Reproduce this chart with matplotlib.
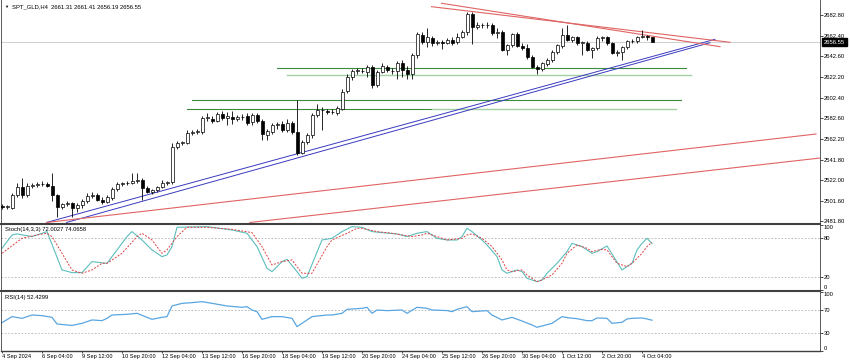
import matplotlib.pyplot as plt
import matplotlib.transforms as mtransforms
from matplotlib.lines import Line2D
import numpy as np

plt.rcParams['font.family'] = ['Liberation Sans', 'DejaVu Sans']

# SPT_GLD H4 candles, 4 Sep 20:00 .. 4 Oct 12:00
opens = [
    2496.5, 2495.8, 2495.0, 2507.5, 2515.5, 2507.0, 2516.0, 2517.0, 2518.0, 2518.5,
    2516.5, 2507.0, 2496.0, 2498.5, 2499.5, 2494.5, 2497.5, 2502.0, 2506.5, 2507.5,
    2503.0, 2500.5, 2505.0, 2513.0, 2518.0, 2519.0, 2519.5, 2521.0, 2522.5, 2514.5,
    2510.5, 2512.0, 2515.0, 2519.5, 2520.0, 2554.5, 2558.5, 2558.0, 2568.0, 2569.0,
    2569.0, 2582.5, 2582.0, 2580.0, 2586.5, 2582.5, 2583.5, 2582.0, 2583.0, 2584.5,
    2578.5, 2585.0, 2579.5, 2566.0, 2569.0, 2575.5, 2577.0, 2571.0, 2577.5, 2569.0,
    2548.5, 2559.5, 2566.0, 2585.0, 2590.5, 2589.5, 2588.5, 2587.5, 2591.5, 2608.5,
    2622.5, 2628.0, 2628.5, 2627.0, 2632.0, 2614.5, 2627.5, 2632.0, 2628.5, 2628.0,
    2636.0, 2629.0, 2625.5, 2643.5, 2663.5, 2657.0, 2660.5, 2655.5, 2656.5, 2656.0,
    2658.5, 2656.5, 2661.5, 2666.0, 2684.0, 2671.5, 2673.0, 2673.5, 2673.0, 2665.0,
    2666.5, 2649.0, 2654.0, 2664.0, 2653.0, 2651.0, 2641.5, 2632.5, 2630.5, 2635.0,
    2639.0, 2647.0, 2653.0, 2663.5, 2659.0, 2661.0, 2656.0, 2656.0, 2649.0, 2650.5,
    2660.5, 2661.0, 2655.5, 2645.5, 2646.5, 2651.5, 2657.5, 2657.5, 2661.5, 2662.0,
    2661.31]
highs = [
    2498.5, 2498.0, 2509.5, 2519.0, 2524.0, 2519.0, 2519.5, 2520.0, 2521.5, 2520.0,
    2529.2, 2508.5, 2500.0, 2501.5, 2501.0, 2500.0, 2504.0, 2509.0, 2510.5, 2509.0,
    2506.0, 2507.5, 2515.0, 2520.0, 2520.5, 2521.0, 2529.0, 2529.0, 2524.0, 2516.0,
    2513.5, 2516.0, 2522.0, 2521.5, 2558.5, 2560.0, 2560.5, 2571.0, 2571.0, 2572.0,
    2584.5, 2587.0, 2584.0, 2588.5, 2589.5, 2588.0, 2589.0, 2585.5, 2586.0, 2587.0,
    2587.0, 2587.0, 2582.0, 2571.5, 2577.5, 2578.5, 2579.5, 2581.5, 2580.0, 2600.0,
    2561.5, 2568.0, 2587.0, 2596.0, 2593.0, 2591.5, 2591.0, 2594.0, 2611.0, 2625.5,
    2630.5, 2631.0, 2631.0, 2634.5, 2634.5, 2629.0, 2636.0, 2634.0, 2631.0, 2638.0,
    2639.0, 2633.0, 2646.0, 2666.0, 2666.0, 2670.0, 2662.5, 2659.0, 2659.0, 2660.0,
    2661.0, 2665.0, 2668.5, 2686.0, 2686.0, 2676.0, 2675.5, 2676.0, 2675.0, 2670.0,
    2668.0, 2654.5, 2665.0, 2666.0, 2655.5, 2654.5, 2643.5, 2634.5, 2637.5, 2641.0,
    2648.5, 2655.0, 2670.0, 2673.0, 2662.5, 2662.5, 2658.0, 2657.5, 2651.5, 2662.0,
    2662.0, 2662.0, 2657.0, 2648.5, 2652.5, 2658.5, 2659.5, 2662.5, 2668.5, 2663.0,
    2661.41]
lows = [
    2494.0, 2493.5, 2494.0, 2506.0, 2505.0, 2505.5, 2514.5, 2515.5, 2516.0, 2515.0,
    2501.5, 2486.0, 2494.0, 2496.5, 2486.0, 2491.0, 2495.0, 2500.0, 2504.5, 2501.5,
    2499.0, 2499.5, 2503.0, 2511.5, 2516.5, 2517.0, 2518.0, 2519.0, 2502.5, 2509.5,
    2508.5, 2510.0, 2514.5, 2517.5, 2518.0, 2552.5, 2556.0, 2557.0, 2566.0, 2567.0,
    2566.5, 2580.0, 2578.0, 2578.5, 2580.5, 2576.0, 2576.5, 2580.0, 2580.5, 2576.0,
    2575.5, 2578.0, 2561.0, 2561.0, 2567.0, 2572.0, 2568.5, 2569.0, 2566.5, 2546.5,
    2547.0, 2557.5, 2563.5, 2583.0, 2571.0, 2586.5, 2586.0, 2585.5, 2590.0, 2606.5,
    2620.0, 2625.0, 2626.0, 2622.0, 2612.0, 2612.5, 2626.0, 2627.5, 2625.0, 2621.0,
    2622.0, 2621.0, 2621.0, 2641.0, 2655.0, 2652.0, 2653.0, 2653.5, 2650.0, 2655.0,
    2654.0, 2654.5, 2660.0, 2663.5, 2655.0, 2669.5, 2670.5, 2670.0, 2663.0, 2660.0,
    2647.5, 2644.0, 2652.0, 2652.0, 2649.0, 2640.0, 2631.0, 2625.0, 2628.5, 2633.5,
    2637.5, 2645.0, 2650.5, 2658.0, 2656.5, 2654.0, 2644.0, 2647.5, 2641.0, 2649.0,
    2658.0, 2654.0, 2644.5, 2643.0, 2639.0, 2650.0, 2655.5, 2656.0, 2660.0, 2659.0,
    2656.19]
closes = [
    2495.8, 2496.8, 2507.0, 2515.5, 2507.0, 2516.0, 2517.0, 2518.0, 2518.5, 2516.5,
    2507.0, 2496.0, 2498.5, 2499.5, 2494.5, 2497.5, 2502.0, 2506.5, 2507.5, 2503.0,
    2500.5, 2505.5, 2513.0, 2518.0, 2519.0, 2519.5, 2521.0, 2522.0, 2514.0, 2510.5,
    2512.0, 2515.0, 2519.5, 2520.0, 2554.5, 2558.5, 2559.0, 2568.0, 2569.0, 2570.0,
    2582.5, 2583.5, 2580.0, 2586.5, 2582.5, 2584.0, 2582.0, 2583.0, 2583.5, 2578.0,
    2585.0, 2579.5, 2566.5, 2569.5, 2575.5, 2576.5, 2571.0, 2577.5, 2569.0, 2548.0,
    2559.5, 2566.0, 2585.0, 2590.5, 2590.0, 2588.5, 2588.0, 2592.5, 2608.0, 2622.5,
    2628.0, 2629.0, 2628.0, 2632.5, 2614.5, 2627.5, 2633.0, 2629.0, 2628.0, 2636.0,
    2629.0, 2625.5, 2644.0, 2664.5, 2657.0, 2661.0, 2655.5, 2656.5, 2656.0, 2658.5,
    2655.5, 2661.5, 2666.0, 2684.0, 2671.5, 2673.0, 2673.5, 2673.0, 2665.0, 2666.5,
    2649.0, 2653.5, 2664.0, 2653.0, 2650.5, 2641.5, 2632.5, 2630.5, 2636.0, 2639.5,
    2647.0, 2653.5, 2663.5, 2659.0, 2661.0, 2656.0, 2656.5, 2649.0, 2650.5, 2660.5,
    2661.0, 2655.5, 2645.5, 2646.5, 2651.5, 2657.5, 2658.0, 2661.5, 2662.0, 2661.3,
    2656.55]

# Stoch(14,3,3) (bar index, value)
stoch_k_bars = [0, 2, 3, 6, 8, 9, 12, 14, 16, 18, 21, 25, 26, 28, 30, 32, 33, 34, 35, 41,
                46, 49, 51, 53, 54, 56, 57, 59, 60, 61, 64, 66, 68, 70, 72, 74, 76, 79, 81, 83,
                85, 87, 89, 91, 92, 93, 94, 96, 97, 99, 100, 101, 103, 104, 105, 107, 108, 109,
                111, 113, 114, 116, 118, 119, 121, 124, 126, 127, 128, 129, 130]
stoch_k = [64.6, 85.0, 86.7, 82.6, 87.7, 90.3, 31.3, 27.2, 27.2, 44.1, 41.5, 82.6, 90.3, 77.4,
           62.1, 51.8, 54.4, 67.2, 96.9, 97.9, 92.8, 87.7, 67.2, 33.8, 28.7, 44.1, 47.7, 28.7,
           18.5, 21.0, 77.4, 80.0, 90.3, 97.9, 96.9, 90.3, 88.7, 86.7, 82.6, 87.7, 90.3, 80.0,
           77.4, 77.4, 82.6, 95.4, 90.3, 77.4, 69.7, 51.8, 31.3, 26.2, 31.3, 28.7, 18.5, 13.3,
           15.9, 26.2, 41.5, 59.5, 72.3, 67.2, 56.9, 59.5, 68.2, 31.3, 41.5, 62.1, 72.3, 80.0,
           72.0027]
stoch_d_bars = [0, 4, 7, 9, 10, 12, 14, 16, 18, 20, 21, 24, 27, 28, 30, 32, 33, 35, 37, 41,
                46, 50, 52, 54, 56, 58, 60, 62, 65, 66, 69, 71, 72, 75, 78, 82, 84, 85, 87, 89,
                92, 93, 94, 96, 98, 100, 101, 102, 104, 105, 107, 108, 110, 112, 113, 115, 117,
                118, 120, 121, 123, 125, 126, 128, 129, 130]
stoch_d = [56.9, 80.0, 85.1, 87.7, 82.6, 56.9, 31.3, 26.2, 31.3, 41.5, 41.5, 56.9, 82.6, 87.7,
           77.4, 56.9, 62.1, 82.6, 96.9, 96.9, 93.8, 88.7, 67.2, 39.0, 44.1, 46.7, 26.2, 26.2,
           67.2, 77.4, 87.7, 95.4, 95.4, 90.3, 87.7, 82.6, 85.1, 87.7, 82.6, 77.4, 80.0, 85.1,
           86.7, 80.0, 67.2, 46.7, 31.3, 28.7, 31.3, 23.6, 13.3, 15.9, 23.6, 41.5, 56.9, 69.7,
           64.6, 59.5, 63.1, 62.1, 41.5, 36.4, 41.5, 56.9, 67.2, 74.0658]

# RSI(14)
rsi_bars = [0, 2, 4, 6, 8, 10, 11, 14, 16, 18, 20, 21, 22, 25, 27, 30, 32, 33, 34, 36,
            38, 40, 42, 45, 48, 49, 50, 51, 52, 54, 56, 58, 59, 60, 62, 65, 66, 68, 69, 72,
            73, 74, 75, 77, 80, 81, 83, 85, 86, 89, 90, 91, 93, 94, 97, 98, 100, 102, 104, 106,
            107, 110, 111, 112, 113, 115, 117, 118, 119, 121, 122, 124, 125, 126, 128, 129, 130]
rsi_vals = [48.3, 58.6, 55.7, 61.4, 60.3, 57.4, 46.0, 43.5, 47.1, 52.9, 51.7, 55.7, 61.4, 62.6,
            64.3, 54.0, 57.4, 58.6, 76.9, 81.4, 82.6, 84.3, 81.4, 76.9, 74.6, 75.7, 70.0, 67.1,
            54.0, 58.6, 58.6, 55.7, 41.4, 47.1, 58.6, 61.4, 61.4, 64.3, 71.1, 72.9, 74.6, 64.3,
            70.0, 68.9, 70.0, 64.3, 74.6, 72.9, 70.0, 69.0, 67.1, 71.1, 75.7, 67.1, 68.9, 61.4,
            52.9, 57.4, 51.1, 44.3, 40.3, 47.1, 52.9, 58.6, 56.9, 55.1, 51.7, 51.7, 56.3, 55.7,
            47.1, 48.9, 54.6, 55.7, 56.3, 54.6, 52.4299]

time_label_bars = [0, 8, 16, 24, 32, 40, 48, 56, 64, 72, 80, 88, 96, 104, 112, 120, 128]
time_labels = ['4 Sep 2024', '6 Sep 04:00', '9 Sep 12:00', '10 Sep 20:00', '12 Sep 04:00',
               '13 Sep 12:00', '16 Sep 20:00', '18 Sep 04:00', '19 Sep 12:00', '20 Sep 20:00',
               '24 Sep 04:00', '25 Sep 12:00', '26 Sep 20:00', '30 Sep 04:00', '1 Oct 12:00',
               '2 Oct 20:00', '4 Oct 04:00']
price_ticks = [2682.80, 2662.40, 2642.60, 2622.20, 2602.40, 2582.60, 2562.20, 2541.80,
               2522.00, 2501.60, 2481.80]
last_price = 2656.55

# objects drawn on the chart: horizontal levels (price, first bar, last bar)
green_dark_price = [2630.9, 2600.1, 2591.0]
green_dark_from = [55, 38, 37]
green_dark_to = [136.8, 135.8, 86.0]
green_light_price = [2624.4, 2591.0]
green_light_from = [57, 86.0]
green_light_to = [137.8, 134.8]

# trend lines (bar, price) end points
blue_bars = [(8.9, 142.6), (12.9, 141.6)]
blue_prices = [(2480.7, 2659.2), (2480.7, 2655.9)]
red_bars = [(85.9, 145.6), (87.9, 143.6), (8.9, 162.8), (49.6, 163.6)]
red_prices = [(2691.0, 2656.3), (2694.3, 2652.0), (2480.7, 2566.9), (2480.7, 2543.5)]

W, H = 850.0, 364.0
fig = plt.figure(figsize=(8.5, 3.64), dpi=100)


def px_axes(x0, y0, x1, y1):
    return fig.add_axes([x0 / W, 1 - y1 / H, (x1 - x0) / W, (y1 - y0) / H])


ax = px_axes(1, 0, 820, 223.5)
ax_st = px_axes(1, 224.5, 820, 290.3)
ax_rsi = px_axes(1, 291.8, 820, 350.8)

XL = (-0.2, 163.6)
FS = 4.2

for a in (ax, ax_st, ax_rsi):
    a.set_xlim(*XL)
    for s in ('top', 'bottom'):
        a.spines[s].set_visible(False)
    for s in ('left', 'right'):
        a.spines[s].set_linewidth(0.6)
        a.spines[s].set_color('#404040')
    a.yaxis.tick_right()
    a.tick_params(axis='y', direction='out', length=2, width=0.5, pad=0.9,
                  labelsize=FS, colors='black')

# panel separators
for yy, lw in ((223.6, 1.5), (290.9, 1.5), (351.0, 1.0)):
    fig.add_artist(Line2D([1 / W, 820 / W], [1 - yy / H, 1 - yy / H],
                          color='#404040', lw=lw, transform=fig.transFigure))

# ---- main price panel
ax.set_ylim(2697.5 - 0.9745 * 223.5, 2697.5)
ax.set_xticks([])
ax.set_yticks(price_ticks)
ax.set_yticklabels([f'{p:.2f}' for p in price_ticks])

ax.axhline(last_price, color='#c8c8c8', lw=0.6, zorder=1)

for p, a0, a1 in zip(green_dark_price, green_dark_from, green_dark_to):
    ax.plot([a0, a1], [p, p], color='#3d8b3d', lw=0.8, zorder=2)
for p, a0, a1 in zip(green_light_price, green_light_from, green_light_to):
    ax.plot([a0, a1], [p, p], color='#a3d1a3', lw=1.0, zorder=2)
for bx, py in zip(blue_bars, blue_prices):
    ax.plot(bx, py, color='#3a3ac0', lw=0.7, zorder=2)
for bx, py in zip(red_bars, red_prices):
    ax.plot(bx, py, color='#e06464', lw=0.8, zorder=2)

x = np.arange(len(opens))
o, h, l, c = (np.array(v) for v in (opens, highs, lows, closes))
up = c >= o
ax.vlines(x, l, h, color='black', lw=0.6, zorder=3)
lo = np.minimum(o, c)
ht = np.abs(c - o)
ax.bar(x[up], ht[up], bottom=lo[up], width=0.6, color='white', edgecolor='black',
       linewidth=0.5, zorder=4)
ax.bar(x[~up], ht[~up], bottom=lo[~up], width=0.6, color='black', edgecolor='black',
       linewidth=0.5, zorder=4)

trans = mtransforms.blended_transform_factory(ax.transAxes, ax.transData)
ax.text(1.0045, last_price, '2656.55', transform=trans, ha='left', va='center',
        color='white', fontsize=FS,
        bbox=dict(boxstyle='square,pad=0.3', fc='black', ec='black'), zorder=10)

fig.text(4 / W, 1 - 6.5 / H, '\u25bc', fontsize=3, va='center', ha='left')
fig.text(11.5 / W, 1 - 6.5 / H, 'SPT_GLD,H4  2661.31 2661.41 2656.19 2656.55',
         fontsize=FS, va='center', ha='left')

# ---- stochastic panel
ax_st.set_ylim(0, 101.2)
ax_st.set_xticks([])
for lev in (80, 20):
    ax_st.axhline(lev, color='#b4b4b4', lw=0.6, ls=(0, (2, 2)))
ax_st.plot(stoch_k_bars, stoch_k, color='#5cbdbd', lw=0.8)
ax_st.plot(stoch_d_bars, stoch_d, color='#e04040', lw=0.7, ls=(0, (2, 1.5)))
ax_st.set_yticks([0, 20, 80, 100])
ax_st.set_yticklabels(['0', '20', '80', '100'])
for t in ax_st.get_yticklabels():
    if t.get_text() == '100':
        t.set_va('top')
    elif t.get_text() == '0':
        t.set_va('bottom')
fig.text(5 / W, 1 - 230 / H, 'Stoch(14,3,3) 72.0027 74.0658', fontsize=FS,
         va='center', ha='left')

# ---- RSI panel
ax_rsi.set_ylim(0, 101.2)
for lev in (70, 30):
    ax_rsi.axhline(lev, color='#b4b4b4', lw=0.6, ls=(0, (2, 2)))
ax_rsi.plot(rsi_bars, rsi_vals, color='#5aa6e0', lw=0.9)
ax_rsi.set_yticks([0, 30, 70, 100])
ax_rsi.set_yticklabels(['0', '30', '70', '100'])
for t in ax_rsi.get_yticklabels():
    if t.get_text() == '100':
        t.set_va('top')
    elif t.get_text() == '0':
        t.set_va('bottom')
fig.text(5 / W, 1 - 297.5 / H, 'RSI(14) 52.4299', fontsize=FS, va='center', ha='left')

ax_rsi.set_xticks(time_label_bars)
ax_rsi.set_xticklabels(time_labels, ha='left', fontsize=4.1)
ax_rsi.tick_params(axis='x', direction='out', length=1.5, width=0.5, pad=0.6)

fig.savefig('out.png', dpi=100, facecolor='white')
